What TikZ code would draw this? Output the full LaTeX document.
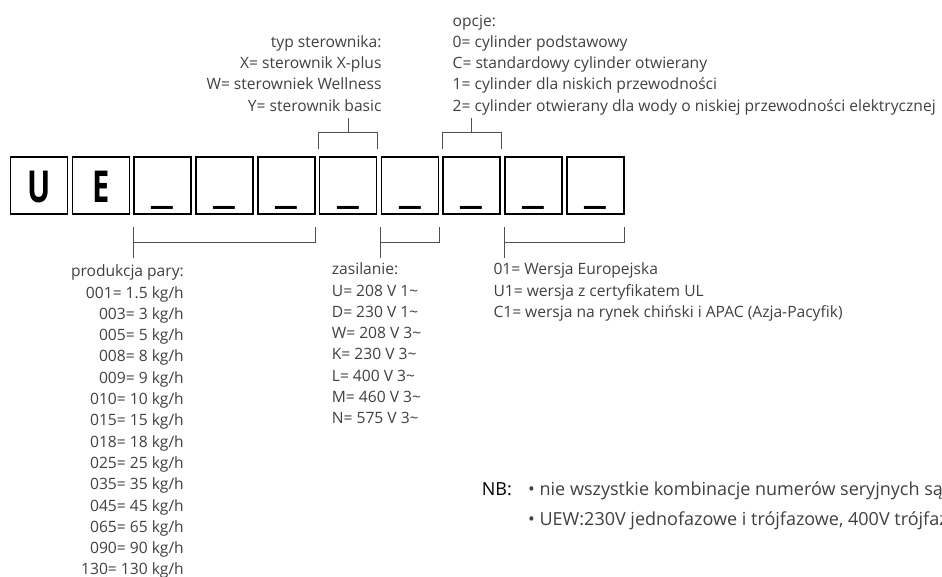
\documentclass[tikz,border=0pt]{standalone}
\usepackage{fontspec}
\setmainfont{Open Sans}
\usepackage{graphicx}
\definecolor{txtgray}{HTML}{404040}
\definecolor{linegray}{HTML}{505050}
\tikzset{
  codebox/.style={draw, line width=1.6pt, minimum size=57pt, inner sep=0pt,
    text height=35pt, text depth=0pt, font=\fontsize{44}{44}\selectfont\bfseries},
  bracket/.style={draw=linegray, line width=0.9pt},
  legend/.style={inner sep=0pt, text=txtgray, font=\fontsize{15.6}{21.3}\selectfont},
  note/.style={inner sep=0pt, text=txtgray, font=\fontsize{18}{30}\selectfont},
}
\begin{document}
\begin{tikzpicture}[x=1pt, y=1pt]
  \useasboundingbox (0,0) rectangle (942,576);
  % code boxes
  \foreach \c/\s [count=\i from 0] in {U/0.7,E/0.7,\_/1.2,\_/1.2,\_/1.2,\_/1.2,\_/1.2,\_/1.2,\_/1.2,\_/1.2}
    \node[codebox] (b\i) at (39.1+61.8*\i, 390.5) {\scalebox{\s}[1]{\c}};
  % brackets above
  \draw[bracket] ([yshift=7pt]b5.north west) -- ([yshift=24pt]b5.north west)
    -- ([yshift=24pt]b5.north east) -- ([yshift=7pt]b5.north east);
  \draw[bracket] ([yshift=24pt]b5.north) -- ([yshift=38pt]b5.north);
  \draw[bracket] ([yshift=7pt]b7.north west) -- ([yshift=24pt]b7.north west)
    -- ([yshift=24pt]b7.north east) -- ([yshift=7pt]b7.north east);
  \draw[bracket] ([yshift=24pt]b7.north) -- ([yshift=38pt]b7.north);
  % brackets below
  \draw[bracket] ([yshift=-12pt]b2.south west) -- ([yshift=-43pt]b2.south west);
  \draw[bracket] ([yshift=-28pt]b2.south west) -- ([yshift=-28pt]b4.south east)
    -- ([yshift=-12pt]b4.south east);
  \draw[bracket] ([yshift=-12pt]b6.south west) -- ([yshift=-43pt]b6.south west);
  \draw[bracket] ([yshift=-28pt]b6.south west) -- ([yshift=-28pt]b6.south east)
    -- ([yshift=-12pt]b6.south east);
  \draw[bracket] ([yshift=-12pt]b8.south west) -- ([yshift=-43pt]b8.south west);
  \draw[bracket] ([yshift=-28pt]b8.south west) -- ([yshift=-28pt]b9.south east)
    -- ([yshift=-12pt]b9.south east);
  % legends
  \node[legend, anchor=north east, align=right] (typ) at (381.7, 543.9)
    {\strut typ sterownika:\\X= sterownik X-plus\\W= sterowniek Wellness\\Y= sterownik basic};
  \node[legend, anchor=north west, align=left] (opcje) at (452.5, 565.1)
    {\strut opcje:\\0= cylinder podstawowy\\C= standardowy cylinder otwierany\\
     1= cylinder dla niskich przewodności\\
     2= cylinder otwierany dla wody o niskiej przewodności elektrycznej};
  \node[legend, anchor=north east, align=right] (prod) at (184, 314.4)
    {\strut produkcja pary:\\001= 1.5 kg/h\\003= 3 kg/h\\005= 5 kg/h\\008= 8 kg/h\\
     009= 9 kg/h\\010= 10 kg/h\\015= 15 kg/h\\018= 18 kg/h\\025= 25 kg/h\\
     035= 35 kg/h\\045= 45 kg/h\\065= 65 kg/h\\090= 90 kg/h\\130= 130 kg/h};
  \node[legend, anchor=north west, align=left] (zasil) at (331.7, 316.4)
    {\strut zasilanie:\\U= 208 V 1\textasciitilde\\D= 230 V 1\textasciitilde\\
     W= 208 V 3\textasciitilde\\K= 230 V 3\textasciitilde\\L= 400 V 3\textasciitilde\\
     M= 460 V 3\textasciitilde\\N= 575 V 3\textasciitilde};
  \node[legend, anchor=north west, align=left] (wersja) at (493.3, 316.4)
    {\strut 01= Wersja Europejska\\U1= wersja z certyfikatem UL\\
     C1= wersja na rynek chiński i APAC (Azja-Pacyfik)};
  % notes
  \node[note, text=black, anchor=base west] (nb) at (481.7, 81) {NB:};
  \node[note, anchor=north west, align=left] (uwagi) at (528, 102)
    {\strut • nie wszystkie kombinacje numerów seryjnych są dostępne\\
     • UEW:230V jednofazowe i trójfazowe, 400V trójfazowe};
\end{tikzpicture}
\end{document}
